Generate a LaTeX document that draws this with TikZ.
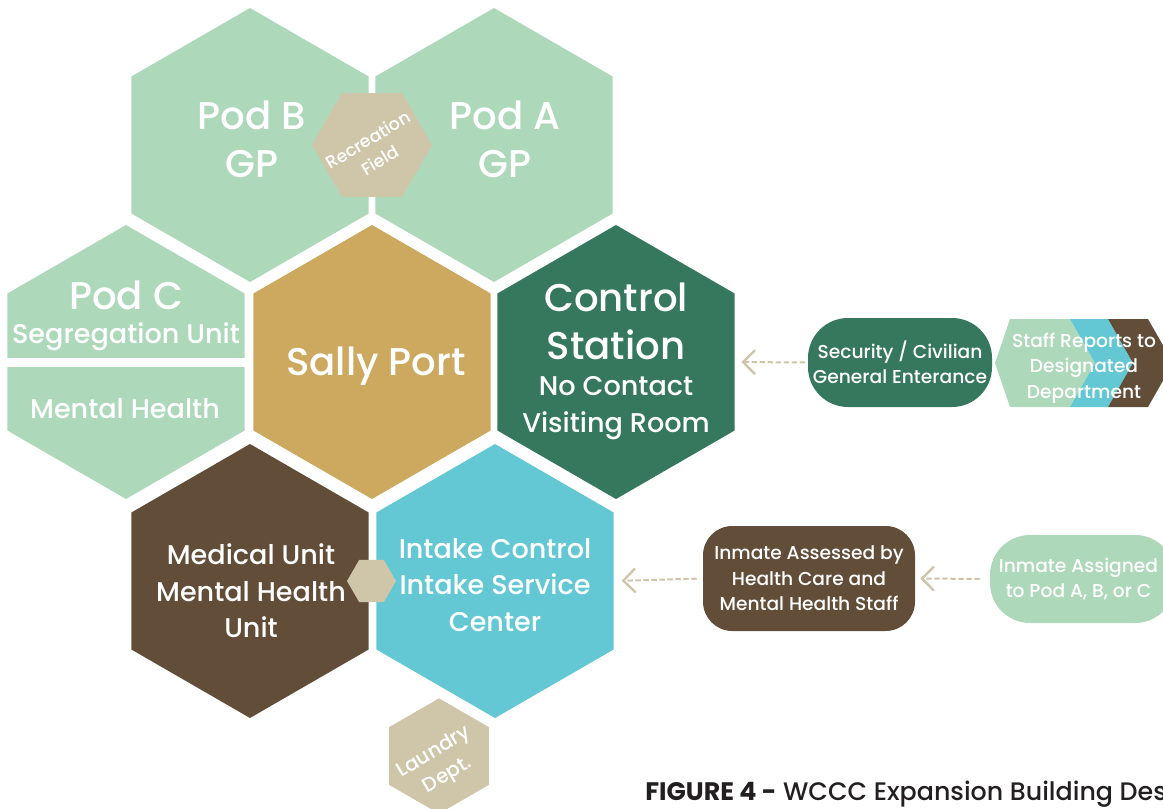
\documentclass[tikz,border=0pt]{standalone}
\usepackage{fontspec}
\setmainfont{Poppins}[UprightFont=* Medium, BoldFont=* Bold]
\usetikzlibrary{shapes.geometric, arrows.meta, math}
\definecolor{podgreen}{RGB}{173,217,186}
\definecolor{ctrlgreen}{RGB}{53,120,94}
\definecolor{sallygold}{RGB}{204,169,95}
\definecolor{medbrown}{RGB}{98,77,56}
\definecolor{intakecyan}{RGB}{99,200,211}
\definecolor{sandtan}{RGB}{207,197,169}
\definecolor{captiongray}{RGB}{35,31,32}

\tikzset{
  hexcell/.style={regular polygon, regular polygon sides=6, shape border rotate=30,
    minimum size=2*\hexR*\px pt, inner sep=0pt, outer sep=0pt, fill=#1},
  tanhex/.style={regular polygon, regular polygon sides=6, inner sep=0pt,
    outer sep=0pt, fill=sandtan, minimum size=#1},
  celltext/.style={text=white, align=center, inner sep=0pt},
  bigtxt/.style={font=\fontsize{29}{36}\selectfont},
  midtxt/.style={font=\fontsize{20.3}{27.5}\selectfont},
  boxtxt/.style={font=\fontsize{14}{19}\selectfont},
  tinytxt/.style={font=\fontsize{13}{18}\selectfont},
  flowbox/.style={rounded corners=#1, text=white, align=center, inner sep=0pt},
  flowarrow/.style={draw=sandtan, line width=1.5pt, dash pattern=on 4pt off 2pt,
    -{Straight Barb[length=9pt,width=18pt,line width=1.8pt]}}
}

\begin{document}
\begin{tikzpicture}[x=0.75pt,y=-0.75pt]
\tikzmath{
\hexR=137;
\px=0.75;
}
\useasboundingbox (0,0) rectangle (1163,809);
\clip (0,0) rectangle (1163,809);

% honeycomb
\node[hexcell=podgreen] (podB) at (250,145) {};
\node[hexcell=podgreen] (podA) at (494,145) {};
\node[hexcell=podgreen] (podC) at (126,362) {};
\node[hexcell=sallygold] (sally) at (372,362) {};
\node[hexcell=ctrlgreen] (control) at (616,362) {};
\node[hexcell=medbrown] (medical) at (250,581) {};
\node[hexcell=intakecyan] (intake) at (495,581) {};
\fill[white] (0,358) rectangle (247,367);

\node[tanhex=90pt] (recfield) at (372,145) {};
\node[tanhex=36.75pt] (medlink) at (371.5,581) {};
\node[tanhex=86.5pt, shape border rotate=30] (laundry) at (439,756) {};

\node[celltext, bigtxt] (podBtxt) at (252,139) {Pod B\\GP};
\node[celltext, bigtxt] (podAtxt) at (505,139) {Pod A\\GP};
\node[celltext, bigtxt] (podCtxt) at (126,295) {Pod C};
\node[celltext, midtxt] (segtxt) at (126,337) {Segregation Unit};
\node[celltext, midtxt] (mhtxt) at (125,409) {Mental Health};
\node[celltext, bigtxt] (sallytxt) at (376,366) {Sally Port};
\node[celltext, bigtxt] (controltxt) at (616,321) {Control\\Station};
\node[celltext, midtxt] (visittxt) at (616,408) {No Contact\\Visiting Room};
\node[celltext, midtxt] (medtxt) at (251,591) {Medical Unit\\Mental Health\\Unit};
\node[celltext, midtxt] (intaketxt) at (495,585) {Intake Control\\Intake Service\\Center};
\node[celltext, tinytxt, rotate=31] (rectxt) at (374,150) {Recreation\\Field};
\node[celltext, font=\fontsize{15}{20}\selectfont, rotate=31] (laundrytxt) at (441,764) {Laundry\\Dept.};

% staff chevrons
\fill[podgreen] (995,363) -- (1010,319) -- (1070,319) -- (1095,363) -- (1070,407) -- (1010,407) -- cycle;
\fill[intakecyan] (1070,319) -- (1108,319) -- (1133,363) -- (1108,407) -- (1070,407) -- (1095,363) -- cycle;
\fill[medbrown] (1108,319) -- (1148,319) -- (1173,363) -- (1148,407) -- (1108,407) -- (1133,363) -- cycle;
\node[celltext, boxtxt] (stafftxt) at (1084,368) {Staff Reports to\\Designated\\Department};

\node[flowbox=30pt, fill=ctrlgreen, minimum width=138pt, minimum height=66.75pt, boxtxt]
  (security) at (900,362.5) {Security / Civilian\\General Enterance};
\node[flowbox=22pt, fill=medbrown, minimum width=159pt, minimum height=78.75pt, boxtxt]
  (assessed) at (809,578.5) {Inmate Assessed by\\Health Care and\\Mental Health Staff};
\node[flowbox=30pt, fill=podgreen, minimum width=138.75pt, minimum height=66pt, boxtxt]
  (assigned) at (1082.5,579) {\hspace*{-6pt}Inmate Assigned\\\hspace*{-6pt}to Pod A, B, or C};

\draw[flowarrow, shorten <=2pt, shorten >=5pt] (security.west) -- (control.east);
\draw[flowarrow, shorten <=4.5pt, shorten >=6pt] (assessed.west) -- (intake.east);
\draw[flowarrow, shorten <=7.5pt, shorten >=3.75pt] (assigned.west) -- (assessed.east);

\node[anchor=base west, inner sep=0pt, text=captiongray, font=\fontsize{19}{22}\selectfont]
  (caption) at (645,800) {\textbf{FIGURE 4 -} WCCC Expansion Building Design};
\end{tikzpicture}
\end{document}
